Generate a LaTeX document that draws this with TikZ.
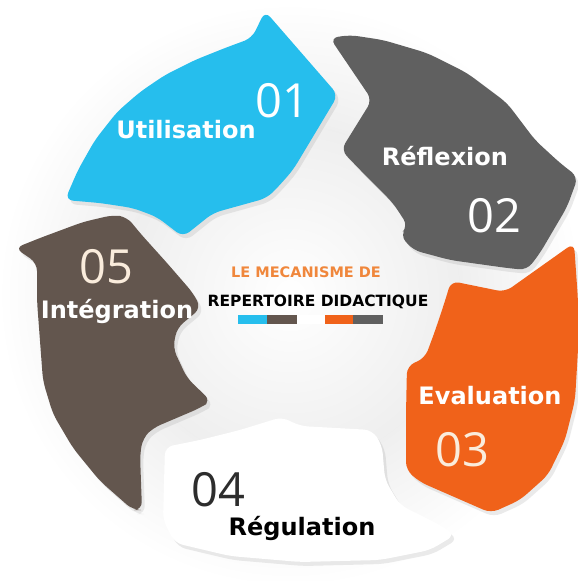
\documentclass[tikz,border=0pt]{standalone}
\usepackage{fontspec}
\setmainfont{DejaVu Sans}
\newfontfamily\numfont{Open Sans}
\usetikzlibrary{shadows}
\definecolor{cycblue}{RGB}{38,190,237}
\definecolor{cycgray}{RGB}{96,96,96}
\definecolor{cycorange}{RGB}{240,98,26}
\definecolor{cycbrown}{RGB}{99,86,78}
\definecolor{titleorange}{RGB}{240,135,60}
\definecolor{numdark}{RGB}{45,45,45}
\definecolor{numcream}{RGB}{250,236,220}

\begin{document}
\begin{tikzpicture}[x=1pt,y=-1pt,
    seg/.style={rounded corners=8pt, drop shadow={opacity=0.16, shadow xshift=3pt, shadow yshift=-4pt}},
    lbl/.style={font=\bfseries\fontsize{24}{24}\selectfont, inner sep=0pt, anchor=base},
    num/.style={font=\numfont\fontsize{47}{47}\selectfont, inner sep=0pt, anchor=base}]
				\useasboundingbox (0,0) rectangle (578,581);
				\fill[white] (0,0) rectangle (578,581);
				\shade[inner color=gray!30, outer color=white] (290,295) circle (292);
				\shade[inner color=white, outer color=gray!13] (290,295) circle (170);
				
				\fill[cycblue, seg] (65,200) -- (78,170) -- (95,140) -- (117,112) -- (140,92) -- (165,75) -- (195,60) -- (225,48) -- (252,38) -- (265,11) -- (338,95) -- (293,170) -- (278,187) -- (267,198) -- (213,213) -- (183,237) -- (157,217) -- (133,208) -- (100,203) -- cycle;
				\fill[cycgray, seg] (330,38) -- (350,35) -- (383,40) -- (427,53) -- (467,73) -- (507,103) -- (535,140) -- (560,163) -- (578,177) -- (567,207) -- (540,253) -- (527,270) -- (507,268) -- (450,260) -- (413,250) -- (400,235) -- (408,226) -- (393,203) -- (367,177) -- (341,150) -- (372,100) -- cycle;
				\fill[cycorange, seg] (451,281) -- (505,292) -- (574,243) -- (578,300) -- (578,350) -- (575,400) -- (565,440) -- (548,475) -- (520,500) -- (491,513) -- (420,482) -- (406,470) -- (406,414) -- (407,366) -- (425,358) -- (435,331) -- (445,301) -- cycle;
				\fill[white, seg] (165,447) -- (200,440) -- (240,430) -- (282,417) -- (300,426) -- (372,430) -- (382,445) -- (385,480) -- (400,505) -- (440,525) -- (455,535) -- (430,550) -- (380,560) -- (300,562) -- (230,556) -- (175,543) -- (163,520) -- cycle;
				\fill[cycbrown, seg] (15,248) -- (40,238) -- (83,222) -- (113,215) -- (127,217) -- (140,233) -- (167,263) -- (193,293) -- (201,308) -- (177,328) -- (173,348) -- (187,378) -- (211,401) -- (200,408) -- (153,428) -- (143,438) -- (140,454) -- (142,510) -- (133,510) -- (100,481) -- (73,448) -- (53,414) -- (43,381) -- (40,341) -- (37,301) -- (37,263) -- cycle;
				
				\node[num, white] (n1) at (282,117) {01};
				\node[lbl, white] (util) at (186,138) {Utilisation};
				\node[lbl, white] (refl) at (445,165) {Réflexion};
				\node[num, white] (n2) at (494,232) {02};
				\node[lbl, white] (eval) at (490,404) {Evaluation};
				\node[num, numcream] (n3) at (462,466) {03};
				\node[num, numdark] (n4) at (218,506) {04};
				\node[lbl, black] (regu) at (302,535) {Régulation};
				\node[num, numcream] (n5) at (106,283) {05};
				\node[lbl, white] (integ) at (117,318) {Intégration};
				
				\node[font=\bfseries\fontsize{14.5}{14.5}\selectfont, text=titleorange, inner sep=0pt, anchor=base] (title1) at (306,277) {LE MECANISME DE};
				\node[font=\bfseries\fontsize{15.5}{15.5}\selectfont, inner sep=0pt, anchor=base] (title2) at (318,306) {REPERTOIRE DIDACTIQUE};
				\fill[cycblue] (238,315) rectangle (267,324);
				\fill[cycbrown] (267,315) rectangle (297,324);
				\fill[white] (297,315) rectangle (325,324);
				\fill[cycorange] (325,315) rectangle (353,324);
				\fill[cycgray] (353,315) rectangle (383,324);
			\end{tikzpicture}
\end{document}
